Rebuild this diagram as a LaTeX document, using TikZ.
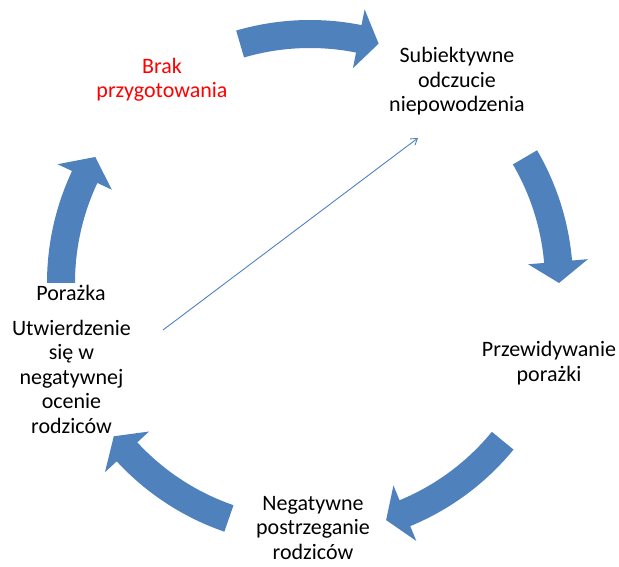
\documentclass[tikz,border=0pt]{standalone}
\usepackage{fontspec}
\setmainfont{Carlito}
\usetikzlibrary{arrows.meta}
\definecolor{cycleblue}{HTML}{4F81BD}
% block arc arrow: tail angle, tip angle, head sweep
\newcommand{\cyclearrow}[3]{%
  \fill[cycleblue] (#1:235pt) arc[start angle=#1,end angle=#2+#3,radius=235pt]
    -- (#2+#3:219pt) -- (#2:249pt) -- (#2+#3:279pt) -- (#2+#3:263pt)
    arc[start angle=#2+#3,end angle=#1,radius=263pt] -- cycle;}

\begin{document}
\begin{tikzpicture}[x=1pt,y=1pt,>={Straight Barb[length=6pt,width=8pt]},
    every node/.style={font=\fontsize{22}{24.5}\selectfont,align=center}]
        \useasboundingbox (0,0) rectangle (619,567);
        \begin{scope}[shift={(310,284)}]
            \cyclearrow{106.3}{74}{4.7}
            \cyclearrow{30.3}{0}{4.9}
            \cyclearrow{-39.3}{-72.2}{4.6}
            \cyclearrow{-109}{-142}{4.7}
            \cyclearrow{180}{149.6}{5.2}
        \end{scope}
        \node[text=red] (brak) at (162,487) {Brak\\przygotowania};
        \node (odczucie) at (457,485.5) {Subiektywne\\odczucie\\niepowodzenia};
        \node (przewid) at (549,204) {Przewidywanie\\porażki};
        \node (postrz) at (313,39) {Negatywne\\postrzeganie\\rodziców};
        \node (porazka) at (71,274) {Porażka};
        \node (utwierdz) at (71.5,190.5) {Utwierdzenie\\się w\\negatywnej\\ocenie\\rodziców};
        \coordinate (od) at (163,237);
        \coordinate (do) at (418,429);
        \draw[->,cycleblue,line width=0.9pt] (od)--(do);
    \end{tikzpicture}
\end{document}
